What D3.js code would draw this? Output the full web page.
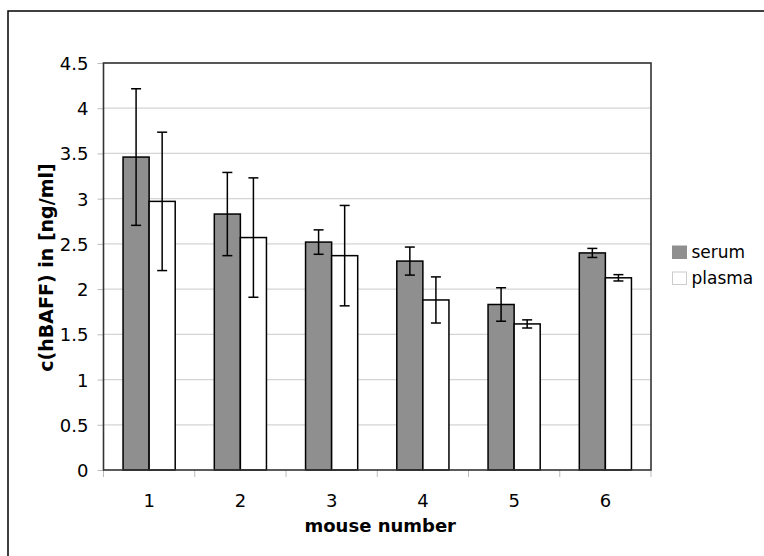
<!DOCTYPE html>
<html>
<head>
<meta charset="utf-8">
<script src="https://cdn.jsdelivr.net/npm/d3@7/dist/d3.min.js"></script>
<style>
  html, body { margin: 0; padding: 0; background: #fff; }
  svg text { font-family: "DejaVu Sans", Verdana, sans-serif; fill: #000; }
</style>
</head>
<body>
<svg id="chart" width="764" height="556"></svg>
<script>
// hBAFF concentration per mouse, serum vs plasma (mean ± error)
const mice = ["1", "2", "3", "4", "5", "6"];
const serum = [3.46, 2.83, 2.52, 2.31, 1.83, 2.40];
const serumErr = [0.755, 0.46, 0.135, 0.155, 0.185, 0.05];
const plasma = [2.97, 2.57, 2.37, 1.88, 1.615, 2.125];
const plasmaErr = [0.765, 0.66, 0.555, 0.255, 0.045, 0.035];
const yTicks = [0, 0.5, 1, 1.5, 2, 2.5, 3, 3.5, 4, 4.5];
const seriesNames = ["serum", "plasma"];
const seriesFill = ["#8f8f8f", "#ffffff"];

const svg = d3.select("#chart");
const plot = { left: 103.5, right: 651, top: 63, bottom: 470 };

const x = d3.scaleBand().domain(mice).range([plot.left, plot.right]).padding(0);
const y = d3.scaleLinear().domain([0, 4.5]).range([plot.bottom, plot.top]);
const barW = x.bandwidth() / 3.5;

// outer frame
svg.append("rect")
  .attr("x", 8).attr("y", 11).attr("width", 800).attr("height", 600)
  .attr("fill", "none").attr("stroke", "#000").attr("stroke-width", 1.5);

// horizontal gridlines
svg.append("g").selectAll("line").data(yTicks.slice(1)).join("line")
  .attr("x1", plot.left).attr("x2", plot.right)
  .attr("y1", d => y(d)).attr("y2", d => y(d))
  .attr("stroke", "#d4d4d4").attr("stroke-width", 1.2);

// y axis with tick labels
const yAxis = d3.axisLeft(y).tickValues(yTicks).tickSize(6).tickPadding(9)
  .tickFormat(d => d3.format("")(d));
const gy = svg.append("g").attr("transform", `translate(${plot.left},0)`).call(yAxis);
gy.select(".domain").remove();
gy.selectAll(".tick line").attr("stroke", "#bbb");
gy.selectAll(".tick text").attr("font-size", "18px").attr("dy", "0.36em")
  .attr("font-family", "DejaVu Sans, Verdana, sans-serif");

// x axis: ticks at the category boundaries, labels at the centres
const bounds = mice.map(m => x(m)).concat([plot.right]);
svg.append("g").selectAll("line").data(bounds).join("line")
  .attr("x1", d => d).attr("x2", d => d)
  .attr("y1", plot.bottom).attr("y2", plot.bottom + 7)
  .attr("stroke", "#bbb").attr("stroke-width", 1);
svg.append("g").selectAll("text").data(mice).join("text")
  .attr("x", d => x(d) + x.bandwidth() / 2).attr("y", 506.5)
  .attr("text-anchor", "middle").attr("font-size", "18px")
  .text(d => d);

// bars
const seriesVals = [serum, plasma];
const seriesErrs = [serumErr, plasmaErr];
seriesVals.forEach((vals, s) => {
  svg.append("g").selectAll("rect").data(mice).join("rect")
    .attr("x", m => x(m) + x.bandwidth() / 2 - barW + s * barW)
    .attr("y", (m, i) => y(vals[i]))
    .attr("width", barW)
    .attr("height", (m, i) => y(0) - y(vals[i]))
    .attr("fill", seriesFill[s]).attr("stroke", "#000").attr("stroke-width", 1.5);
});

// plot area border
svg.append("rect")
  .attr("x", plot.left).attr("y", plot.top)
  .attr("width", plot.right - plot.left).attr("height", plot.bottom - plot.top)
  .attr("fill", "none").attr("stroke", "#333").attr("stroke-width", 1.6);

// error bars
seriesVals.forEach((vals, s) => {
  const errs = seriesErrs[s];
  const g = svg.append("g").attr("stroke", "#000").attr("stroke-width", 1.5);
  mice.forEach((m, i) => {
    const cx = x(m) + x.bandwidth() / 2 - barW / 2 + s * barW;
    const hi = y(vals[i] + errs[i]), lo = y(vals[i] - errs[i]);
    g.append("line").attr("x1", cx).attr("x2", cx).attr("y1", hi).attr("y2", lo);
    g.append("line").attr("x1", cx - 5).attr("x2", cx + 5).attr("y1", hi).attr("y2", hi);
    g.append("line").attr("x1", cx - 5).attr("x2", cx + 5).attr("y1", lo).attr("y2", lo);
  });
});

// axis titles
svg.append("text")
  .attr("x", (plot.left + plot.right) / 2 + 3).attr("y", 532)
  .attr("text-anchor", "middle").attr("font-size", "18px").attr("font-weight", "bold")
  .text("mouse number");
svg.append("text")
  .attr("transform", `translate(52.5,${(plot.top + plot.bottom) / 2 + 1}) rotate(-90)`)
  .attr("text-anchor", "middle").attr("font-size", "19px").attr("font-weight", "bold")
  .text("c(hBAFF) in [ng/ml]");

// legend
const legend = svg.append("g").attr("transform", "translate(672,245.5)");
seriesNames.forEach((name, s) => {
  const row = legend.append("g").attr("transform", `translate(0,${s * 26})`);
  row.append("rect").attr("x", 0.5).attr("y", 0.5).attr("width", 14).attr("height", 12.5)
    .attr("fill", seriesFill[s]).attr("stroke", s === 0 ? "#8f8f8f" : "#ccc").attr("stroke-width", 1);
  row.append("text").attr("x", 19.5).attr("y", 6.5).attr("dy", "0.36em")
    .attr("font-size", "17px").text(name);
});
</script>
</body>
</html>
